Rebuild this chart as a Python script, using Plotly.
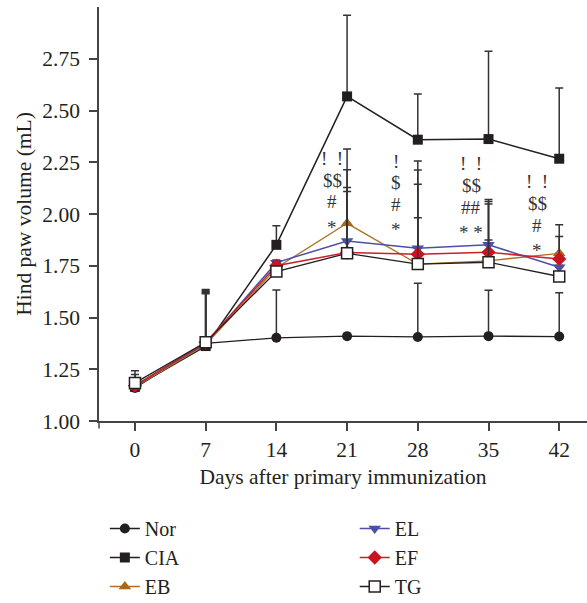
import plotly.graph_objects as go

days = [0, 7, 14, 21, 28, 35, 42]
series_names = ["Nor", "CIA", "EB", "EL", "EF", "TG"]

nor = [1.160, 1.375, 1.402, 1.410, 1.406, 1.410, 1.408]
cia = [1.165, 1.362, 1.851, 2.568, 2.359, 2.362, 2.267]
eb = [1.165, 1.368, 1.740, 1.955, 1.758, 1.774, 1.810]
el = [1.172, 1.375, 1.765, 1.870, 1.835, 1.851, 1.743]
ef = [1.170, 1.380, 1.750, 1.814, 1.806, 1.815, 1.783]
tg = [1.184, 1.380, 1.722, 1.810, 1.758, 1.767, 1.698]

# upper error (SD) values
nor_err = [0.030, 0.000, 0.231, 0.000, 0.260, 0.222, 0.211]
cia_err = [0.060, 0.273, 0.092, 0.392, 0.221, 0.424, 0.342]
eb_err = [0.030, 0.262, 0.020, 0.359, 0.498, 0.296, 0.138]
el_err = [0.030, 0.250, 0.013, 0.344, 0.378, 0.024, 0.010]
ef_err = [0.030, 0.240, 0.020, 0.314, 0.338, 0.245, 0.108]
tg_err = [0.059, 0.235, 0.020, 0.299, 0.224, 0.281, 0.010]

y_ticks = [1.00, 1.25, 1.50, 1.75, 2.00, 2.25, 2.50, 2.75]
y_ticklabels = ["1.00", "1.25", "1.50", "1.75", "2.00", "2.25", "2.50", "2.75"]

sig_days = [21, 28, 35, 42]
sig_lines = [
    ["!\u00a0\u00a0!", "$$", "#", "*"],
    ["!", "$", "#", "*"],
    ["!\u00a0\u00a0!", "$$", "##", "* *"],
    ["!\u00a0\u00a0!", "$$", "#", "*"],
]
# placement of significance marks (x offset in days, y of first line)
sig_xoff = [-1.45, -2.15, -1.70, -2.20]
sig_ytop = [2.268, 2.256, 2.243, 2.155]
sig_step = 0.105

FONT = "Liberation Serif"
TXT = "#231f20"
FS = 21.5

styles = {
    "Nor": dict(color="#231f20", symbol="circle", size=10, mcolor="#231f20", lw=1.3, legend="legend"),
    "CIA": dict(color="#231f20", symbol="square", size=10, mcolor="#231f20", lw=1.5, legend="legend"),
    "EB": dict(color="#b06f25", symbol="triangle-up", size=11, mcolor="#a8671f", lw=1.3, legend="legend"),
    "EL": dict(color="#4b4fa8", symbol="triangle-down", size=11, mcolor="#4b4fa8", lw=1.5, legend="legend2"),
    "EF": dict(color="#cc1f28", symbol="diamond", size=11, mcolor="#c8141e", lw=1.5, legend="legend2"),
    "TG": dict(color="#231f20", symbol="square", size=11, mcolor="white", lw=1.3, legend="legend2"),
}
values = {"Nor": nor, "CIA": cia, "EB": eb, "EL": el, "EF": ef, "TG": tg}
errors = {"Nor": nor_err, "CIA": cia_err, "EB": eb_err, "EL": el_err, "EF": ef_err, "TG": tg_err}

fig = go.Figure()
for name in series_names:
    s = styles[name]
    fig.add_trace(go.Scatter(
        x=days, y=values[name], name=name, mode="lines+markers",
        line=dict(color=s["color"], width=s["lw"]),
        marker=dict(symbol=s["symbol"], size=s["size"], color=s["mcolor"],
                    line=dict(color="#231f20" if name == "TG" else s["mcolor"], width=1.5 if name == "TG" else 0)),
        error_y=dict(type="data", array=errors[name], arrayminus=[0] * len(days),
                     symmetric=False, color="#333333", thickness=1.5, width=4),
        legend=s["legend"],
        cliponaxis=False,
    ))

annotations = []
for d, lines, xo, yt in zip(sig_days, sig_lines, sig_xoff, sig_ytop):
    for i, t in enumerate(lines):
        yy = yt - i * sig_step
        if t.startswith("*"):
            yy -= 0.018
        annotations.append(dict(x=d + xo, y=yy, xref="x", yref="y", text=t, showarrow=False,
                                font=dict(family=FONT, size=19, color="#333333"),
                                xanchor="center", yanchor="middle"))

fig.update_layout(
    width=587, height=603,
    margin=dict(l=99, r=0, t=7, b=182, autoexpand=False),
    paper_bgcolor="white", plot_bgcolor="white",
    font=dict(family=FONT, size=FS, color=TXT),
    showlegend=True,
    legend=dict(x=0.012, y=-0.2126, xanchor="left", yanchor="top",
                font=dict(family=FONT, size=20, color=TXT), bgcolor="rgba(0,0,0,0)",
                tracegroupgap=0),
    legend2=dict(x=0.524, y=-0.2126, xanchor="left", yanchor="top",
                 font=dict(family=FONT, size=20, color=TXT), bgcolor="rgba(0,0,0,0)",
                 tracegroupgap=0),
    annotations=annotations,
    shapes=[dict(type="line", xref="paper", yref="paper", x0=0, x1=0, y0=0, y1=-0.018,
                 line=dict(color="#444444", width=1.5))],
)
fig.update_xaxes(
    range=[-3.56, 44.75], tickmode="array", tickvals=days, ticktext=[str(d) for d in days],
    ticks="outside", ticklen=8, tickwidth=1.5, tickcolor="#444444",
    showline=True, linecolor="#444444", linewidth=1.5, showgrid=False, zeroline=False,
    tickfont=dict(family=FONT, size=FS, color=TXT),
    title=dict(text="Days after primary immunization", font=dict(family=FONT, size=FS, color=TXT), standoff=8),
)
fig.update_yaxes(
    range=[1.0, 3.0], tickmode="array", tickvals=y_ticks, ticktext=y_ticklabels,
    ticks="outside", ticklen=8, tickwidth=1.5, tickcolor="#444444", ticklabelstandoff=5,
    showline=True, linecolor="#444444", linewidth=1.5, showgrid=False, zeroline=False,
    tickfont=dict(family=FONT, size=FS, color=TXT),
    title=dict(text="Hind paw volume (mL)", font=dict(family=FONT, size=FS, color=TXT), standoff=5),
)

fig.write_html("out.html", config={"displayModeBar": False},
               post_script="document.body.style.margin='0px';")
